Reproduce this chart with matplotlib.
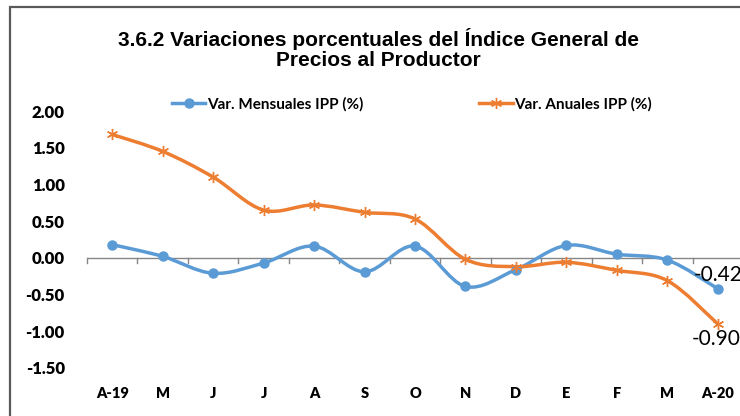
#!/usr/bin/env python3
"""Variaciones porcentuales del IPP: mensuales vs anuales (abr-19 a abr-20)."""

import matplotlib
matplotlib.use('Agg')
import matplotlib.pyplot as plt
from matplotlib.path import Path
from matplotlib.patches import PathPatch, Rectangle

# Data
meses = ['A-19', 'M', 'J', 'J', 'A', 'S', 'O', 'N', 'D', 'E', 'F', 'M', 'A-20']
var_mensual = [0.18, 0.02, -0.21, -0.07, 0.16, -0.19, 0.16, -0.39, -0.16, 0.17, 0.05, -0.03, -0.42]
var_anual = [1.68, 1.45, 1.10, 0.65, 0.72, 0.62, 0.53, -0.02, -0.12, -0.06, -0.17, -0.31, -0.90]
y_ticks = [2.0, 1.5, 1.0, 0.5, 0.0, -0.5, -1.0, -1.5]

BLUE = '#5B9BD5'
ORANGE = '#ED7D31'
LATO = ['Lato', 'DejaVu Sans']
ARIAL = ['Liberation Sans', 'DejaVu Sans']


def smooth_path(xs, ys):
    """Excel-like smoothed line: cubic bezier through every point."""
    pts = list(zip(xs, ys))
    verts = [pts[0]]
    codes = [Path.MOVETO]
    n = len(pts)
    for i in range(n - 1):
        p0 = pts[max(i - 1, 0)]
        p1 = pts[i]
        p2 = pts[i + 1]
        p3 = pts[min(i + 2, n - 1)]
        c1 = (p1[0] + (p2[0] - p0[0]) / 6, p1[1] + (p2[1] - p0[1]) / 6)
        c2 = (p2[0] - (p3[0] - p1[0]) / 6, p2[1] - (p3[1] - p1[1]) / 6)
        verts += [c1, c2, p2]
        codes += [Path.CURVE4] * 3
    return Path(verts, codes)


def main():
    fig = plt.figure(figsize=(7.4, 4.16), dpi=100)
    fig.patch.set_facecolor('white')

    # chart frame (cut off on the right and bottom)
    fig.patches.append(Rectangle((10 / 740, -0.05), 1.1, 1.05 - 7 / 416,
                                 transform=fig.transFigure, fill=False,
                                 edgecolor='#595959', linewidth=1.6))

    ax = fig.add_axes([87 / 740, 1 - 368 / 416, 656 / 740, (368 - 111) / 416])
    x = list(range(len(meses)))

    ax.add_patch(PathPatch(smooth_path(x, var_mensual), fill=False,
                           edgecolor=BLUE, linewidth=2.5, capstyle='round'))
    ax.add_patch(PathPatch(smooth_path(x, var_anual), fill=False,
                           edgecolor=ORANGE, linewidth=2.5, capstyle='round'))
    ax.plot(x, var_mensual, linestyle='none', marker='o', markersize=6.5,
            color=BLUE, label='Var. Mensuales IPP (%)')
    ax.plot(x, var_anual, linestyle='none', marker=(6, 2, 0), markersize=8,
            markeredgewidth=1.0, color=ORANGE, label='Var. Anuales IPP (%)')

    ax.set_xlim(-0.5, len(meses) - 0.5)
    ax.set_ylim(-1.5, 2.0)

    # value labels for the last month (cut at the right edge, like the original)
    ax.text(11.52, var_mensual[-1] + 0.19, f'{var_mensual[-1]:.2f}',
            fontsize=15, family=LATO, ha='left', va='center')
    ax.text(11.49, var_anual[-1] - 0.21, f'{var_anual[-1]:.2f}',
            fontsize=15, family=LATO, ha='left', va='center')

    for side in ['left', 'right', 'top', 'bottom']:
        ax.spines[side].set_visible(False)
    ax.axhline(0, color='#868686', linewidth=1.0, zorder=0)
    for b in range(len(meses) + 1):
        ax.plot([b - 0.5, b - 0.5], [0, -0.07], color='#868686',
                linewidth=1.0, zorder=0, clip_on=False)

    ax.set_yticks(y_ticks)
    ax.set_yticklabels([f'{v:.2f}' for v in y_ticks])
    ax.set_xticks(x)
    ax.set_xticklabels(meses)
    ax.tick_params(axis='both', length=0)
    ax.tick_params(axis='y', pad=16)
    ax.tick_params(axis='x', pad=14)
    for lab in ax.get_yticklabels():
        lab.set_fontfamily(LATO)
        lab.set_fontweight('heavy')
        lab.set_fontsize(12)
    for lab in ax.get_xticklabels():
        lab.set_fontfamily(LATO)
        lab.set_fontweight('heavy')
        lab.set_fontsize(10.5)

    fig.text(378 / 740, 1 - 49 / 416,
             '3.6.2 Variaciones porcentuales del Índice General de\nPrecios al Productor',
             ha='center', va='center', fontsize=15, fontweight='bold',
             family=ARIAL, linespacing=1.05)

    leg = fig.legend(loc='center', bbox_to_anchor=(412 / 740, 1 - 104 / 416),
                     ncol=2, frameon=False, columnspacing=7.6, handlelength=2.2,
                     handletextpad=0.1,
                     prop={'family': LATO, 'weight': 'bold', 'size': 11})
    for h in leg.legend_handles:
        h.set_linestyle('-')
        h.set_linewidth(2.5)

    fig.savefig('out.png', dpi=100)


if __name__ == '__main__':
    main()
